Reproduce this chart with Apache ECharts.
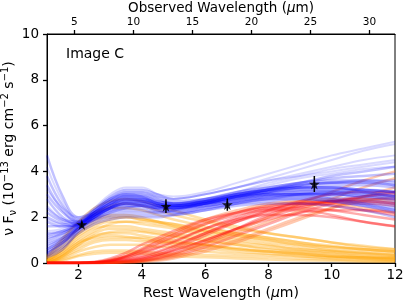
<!DOCTYPE html>
<html><head><meta charset="utf-8">
<script src="https://cdn.jsdelivr.net/npm/echarts@6/dist/echarts.min.js"></script>
<style>html,body{margin:0;padding:0;background:#fff}#c{width:407px;height:305px}</style>
</head><body><div id="c"></div>
<script>
const restX = [1,1.5,2,2.5,3,3.5,4,4.5,5,6,7,8,9,10,11,12];
const blueCurves = [
 [4.7,2.9,2.0,2.2,2.6,2.8,2.7,2.5,2.4,2.6,2.9,3.1,3.3,3.3,3.2,3.1],
 [3.8,2.5,1.9,2.3,2.8,3.0,2.9,2.6,2.5,2.7,3.0,3.2,3.4,3.5,3.5,3.4],
 [3.0,2.2,1.8,2.1,2.5,2.7,2.7,2.5,2.4,2.6,2.8,3.0,3.1,3.1,3.0,2.8],
 [2.0,1.7,1.6,2.0,2.4,2.6,2.6,2.4,2.3,2.5,2.7,2.9,3.0,3.0,2.9,2.7],
 [1.6,1.6,1.7,2.2,2.7,2.9,2.8,2.6,2.5,2.6,2.8,3.0,3.1,3.1,3.0,2.9],
 [1.2,1.4,1.7,2.3,2.8,3.1,3.1,2.9,2.7,2.8,3.0,3.2,3.4,3.5,3.6,3.6],
 [0.9,1.2,1.6,2.1,2.5,2.7,2.7,2.5,2.4,2.5,2.7,2.8,2.9,2.8,2.6,2.4],
 [0.6,1.0,1.6,2.2,2.7,3.0,3.0,2.8,2.6,2.7,2.9,3.1,3.2,3.2,3.2,3.1],
 [0.4,0.9,1.5,2.0,2.4,2.6,2.5,2.3,2.2,2.4,2.6,2.8,2.8,2.7,2.5,2.3],
 [2.2,1.8,1.7,2.0,2.3,2.4,2.4,2.3,2.3,2.5,2.7,2.9,3.0,3.0,2.9,2.8],
 [0.8,1.1,1.5,1.9,2.2,2.3,2.3,2.2,2.2,2.4,2.6,2.7,2.8,2.7,2.5,2.2],
 [3.4,2.3,1.8,2.1,2.4,2.6,2.6,2.5,2.5,2.7,3.0,3.3,3.5,3.7,3.8,3.9],
 [1.0,1.3,1.7,2.1,2.4,2.5,2.5,2.4,2.4,2.6,2.8,3.0,3.0,3.0,2.8,2.6],
 [0.5,0.9,1.4,1.8,2.0,2.1,2.1,2.1,2.1,2.3,2.5,2.6,2.6,2.5,2.3,2.0],
 [1.8,1.6,1.7,2.1,2.5,2.8,2.8,2.6,2.5,2.6,2.9,3.2,3.5,3.8,4.0,4.2],
 [0.7,1.1,1.6,2.2,2.6,2.8,2.8,2.6,2.5,2.7,2.9,3.1,3.3,3.4,3.4,3.3],
 [2.8,2.0,1.7,2.0,2.4,2.7,2.7,2.6,2.5,2.7,3.0,3.2,3.3,3.3,3.2,3.1],
 [0.35,0.7,1.3,1.7,1.9,2.0,2.0,2.0,2.1,2.3,2.6,2.8,3.0,3.1,3.1,3.0],
 [1.1,1.3,1.6,1.9,2.1,2.2,2.2,2.2,2.3,2.6,2.9,3.2,3.4,3.5,3.5,3.4],
 [0.25,0.6,1.4,2.0,2.4,2.6,2.6,2.5,2.5,2.7,3.0,3.2,3.3,3.3,3.1,2.9],
 [0.45,0.85,1.5,2.1,2.6,2.9,2.9,2.7,2.6,2.8,3.1,3.3,3.5,3.6,3.6,3.5],
 [2.4,1.9,1.8,2.2,2.6,2.9,2.9,2.7,2.6,2.7,2.9,3.0,3.0,2.9,2.7,2.5],
 [1.3,1.4,1.7,2.0,2.3,2.5,2.5,2.4,2.4,2.6,2.9,3.1,3.2,3.2,3.1,2.9],
 [0.6,1.0,1.5,1.9,2.2,2.4,2.5,2.4,2.4,2.6,2.8,2.9,2.9,2.8,2.6,2.3]
];
const blueFaintCurves = [
 [2.5,1.9,1.7,2.2,2.7,3.0,3.0,2.8,2.6,2.8,3.1,3.4,3.7,3.9,4.1,4.2],
 [0.3,0.8,1.6,2.3,2.9,3.2,3.2,3.0,2.8,3.0,3.3,3.6,3.9,4.2,4.5,4.7],
 [1.4,1.5,1.8,2.4,3.0,3.3,3.3,3.0,2.8,3.0,3.3,3.7,4.1,4.5,4.9,5.2],
 [4.2,2.7,1.9,2.1,2.5,2.8,2.8,2.7,2.6,2.8,3.1,3.5,3.8,4.1,4.3,4.5],
 [3.2,2.4,2.0,2.4,2.9,3.2,3.2,3.0,2.9,3.1,3.5,3.9,4.3,4.7,5.0,5.3],
 [1.9,1.7,1.8,2.3,2.8,3.1,3.1,2.9,2.8,3.0,3.3,3.6,3.8,4.0,4.2,4.4]
];
const orangeCurves = [
 [0.1,0.6,1.2,1.6,1.8,1.8,1.7,1.6,1.5,1.2,1.0,0.8,0.6,0.5,0.4,0.3],
 [0.2,0.9,1.5,1.9,2.1,2.1,2.0,1.8,1.7,1.4,1.2,1.0,0.8,0.7,0.6,0.5],
 [0.05,0.4,0.9,1.3,1.5,1.5,1.4,1.3,1.2,1.0,0.8,0.6,0.5,0.4,0.3,0.25],
 [0.0,0.3,0.7,1.0,1.1,1.1,1.1,1.0,0.9,0.8,0.6,0.5,0.4,0.3,0.25,0.2],
 [0.3,1.1,1.8,2.2,2.4,2.4,2.3,2.1,1.9,1.6,1.3,1.1,0.9,0.7,0.6,0.5],
 [0.0,0.2,0.5,0.7,0.8,0.8,0.8,0.7,0.7,0.5,0.4,0.35,0.3,0.2,0.15,0.1],
 [0.1,0.5,1.0,1.4,1.7,1.8,1.8,1.7,1.6,1.4,1.2,1.0,0.8,0.6,0.5,0.4],
 [0.0,0.3,0.8,1.2,1.3,1.3,1.2,1.1,1.0,0.8,0.65,0.5,0.4,0.3,0.2,0.15],
 [0.15,0.8,1.5,2.1,2.5,2.6,2.5,2.3,2.1,1.8,1.5,1.3,1.1,0.9,0.75,0.6],
 [0.05,0.4,0.9,1.1,1.2,1.15,1.05,0.95,0.9,0.75,0.6,0.5,0.4,0.3,0.25,0.2],
 [0.0,0.15,0.35,0.5,0.55,0.55,0.5,0.45,0.4,0.35,0.3,0.25,0.2,0.15,0.1,0.08],
 [0.2,0.7,1.3,1.7,1.9,2.0,1.9,1.8,1.7,1.5,1.3,1.1,0.9,0.75,0.6,0.5],
 [0.0,0.25,0.6,0.9,1.0,1.0,0.95,0.9,0.8,0.65,0.5,0.4,0.3,0.25,0.2,0.15],
 [0.1,0.5,1.1,1.5,1.6,1.6,1.5,1.4,1.3,1.1,0.9,0.75,0.6,0.5,0.4,0.35],
 [0.25,1.0,1.8,2.4,2.7,2.8,2.7,2.5,2.3,1.9,1.6,1.3,1.1,0.9,0.7,0.6],
 [0.0,0.1,0.3,0.4,0.45,0.45,0.4,0.35,0.3,0.25,0.2,0.15,0.12,0.1,0.06,0.05],
 [0.05,0.35,0.8,1.15,1.35,1.4,1.35,1.25,1.15,0.95,0.8,0.65,0.5,0.4,0.3,0.25],
 [0.1,0.6,1.3,1.8,2.0,2.0,1.9,1.8,1.6,1.3,1.1,0.9,0.7,0.55,0.45,0.35]
];
const redCurves = [
 [0,0,0,0.02,0.1,0.25,0.5,0.8,1.1,1.7,2.2,2.5,2.7,2.8,2.8,2.7],
 [0,0,0,0.01,0.05,0.12,0.25,0.45,0.7,1.3,1.8,2.2,2.5,2.6,2.6,2.5],
 [0,0,0,0,0.02,0.06,0.15,0.3,0.5,1.0,1.5,2.0,2.4,2.7,2.9,3.0],
 [0,0,0,0.03,0.15,0.35,0.65,1.0,1.3,1.9,2.3,2.6,2.7,2.6,2.4,2.2],
 [0,0,0,0,0.01,0.03,0.08,0.17,0.3,0.7,1.2,1.7,2.2,2.6,2.9,3.1],
 [0,0,0,0.02,0.08,0.2,0.4,0.65,0.9,1.5,2.0,2.4,2.6,2.7,2.7,2.6],
 [0,0,0,0,0.01,0.02,0.05,0.1,0.2,0.5,0.9,1.4,1.9,2.4,2.9,3.3],
 [0,0,0,0.05,0.2,0.45,0.8,1.1,1.4,1.9,2.2,2.4,2.4,2.3,2.1,1.9],
 [0,0,0,0.01,0.04,0.1,0.2,0.35,0.55,1.0,1.5,1.9,2.2,2.3,2.3,2.2],
 [0,0,0,0,0.02,0.05,0.12,0.25,0.4,0.85,1.4,2.0,2.6,3.1,3.6,4.0],
 [0,0,0,0.02,0.1,0.3,0.55,0.85,1.15,1.7,2.1,2.3,2.3,2.1,1.8,1.6],
 [0,0,0,0,0.03,0.08,0.18,0.35,0.6,1.2,1.8,2.3,2.7,3.0,3.1,3.1],
 [0,0,0,0,0.01,0.03,0.07,0.14,0.25,0.6,1.0,1.5,2.0,2.4,2.7,2.9],
 [0,0,0,0.03,0.12,0.3,0.6,0.95,1.25,1.8,2.2,2.5,2.6,2.5,2.3,2.1],
 [0,0,0,0.01,0.06,0.15,0.3,0.5,0.75,1.3,1.9,2.3,2.6,2.7,2.7,2.6],
 [0,0,0,0,0.02,0.05,0.1,0.2,0.35,0.8,1.3,1.8,2.3,2.8,3.3,3.7],
 [0,0,0,0.02,0.1,0.25,0.45,0.7,0.95,1.5,1.9,2.1,2.1,2.0,1.8,1.6],
 [0,0,0,0,0.01,0.04,0.1,0.22,0.4,0.9,1.5,2.1,2.5,2.7,2.8,2.8]
];
const obsX = [2.1,4.76,6.7,9.45];
const obsY = [1.68,2.48,2.55,3.45];
const obsErr = [0.12,0.3,0.27,0.35];
const bottomTicks = [2,4,6,8,10,12];
const topTicks = [5,10,15,20,25,30];
const zFactor = 2.68;

const FONT = 'DejaVu Sans';
const series = [];
function addCurves(curves, colorFn, opacity, width){
  curves.forEach((c,i) => series.push({
    type:'line', smooth:0.4, symbol:'none', silent:true,
    data: c.map((v,j)=>[restX[j], v]),
    lineStyle:{color: colorFn(i), opacity, width}
  }));
}
addCurves(orangeCurves, ()=> '#ffa500', 0.34, 2.5);
addCurves(redCurves, i => i%3===0 ? '#ff5a10' : '#ff0000', 0.33, 2.5);
addCurves(blueFaintCurves, ()=> '#0000ff', 0.15, 2);
addCurves(blueCurves, ()=> '#0000ff', 0.24, 2.5);
series.push({
  type:'custom', silent:true, z:10,
  data: obsX.map((x,i)=>[x, obsY[i]-obsErr[i], obsY[i]+obsErr[i]]),
  renderItem:(params, api)=>{
    const a = api.coord([api.value(0), api.value(1)]);
    const b = api.coord([api.value(0), api.value(2)]);
    return {type:'line', shape:{x1:a[0],y1:a[1],x2:b[0],y2:b[1]}, style:{stroke:'#000', lineWidth:1.5}};
  }
});
series.push({
  type:'scatter', z:11, silent:true,
  symbol:'path://M50,0 L61,35 L98,35 L68,57 L79,91 L50,70 L21,91 L32,57 L2,35 L39,35 Z',
  symbolSize:11, itemStyle:{color:'#000'},
  data: obsX.map((x,i)=>[x, obsY[i]])
});

const chart = echarts.init(document.getElementById('c'), null, {renderer:'canvas'});
chart.setOption({
  animation:false,
  textStyle:{fontFamily:FONT},
  title:{text:'Image C', left:61, top:42, textStyle:{fontFamily:FONT, fontSize:14, fontWeight:'normal', color:'#000'}},
  grid:{left:47, right:12, top:34, bottom:42, containLabel:false, outerBoundsMode:'none',
        show:true, borderColor:'#000', borderWidth:1, backgroundColor:'transparent'},
  xAxis:[{
    type:'value', min:1, max:12, position:'bottom',
    name:'Rest Wavelength ({i|μ}m)', nameLocation:'middle', nameGap:23, nameMoveOverlap:false,
    nameTextStyle:{fontFamily:FONT, fontSize:14, color:'#000', rich:{i:{fontStyle:'italic', fontFamily:FONT, fontSize:14}}},
    axisLine:{show:true, lineStyle:{color:'#000'}},
    axisTick:{show:true, customValues:bottomTicks, length:4, lineStyle:{color:'#000', width:1.3}},
    axisLabel:{customValues:bottomTicks, color:'#000', fontSize:13.5, margin:5, fontFamily:FONT},
    splitLine:{show:false}
  },{
    type:'value', min:zFactor*1, max:zFactor*12, position:'top',
    name:'Observed Wavelength ({i|μ}m)', nameLocation:'middle', nameGap:19, nameMoveOverlap:false,
    nameTextStyle:{fontFamily:FONT, fontSize:13.5, color:'#000', rich:{i:{fontStyle:'italic', fontFamily:FONT, fontSize:13.5}}},
    axisLine:{show:true, lineStyle:{color:'#000'}},
    axisTick:{show:true, customValues:topTicks, length:4, lineStyle:{color:'#000', width:1.3}},
    axisLabel:{customValues:topTicks, color:'#000', fontSize:10.5, margin:6, fontFamily:FONT},
    splitLine:{show:false}
  }],
  yAxis:[{
    type:'value', min:0, max:10, interval:2,
    name:'{t|ν F}{s|ν}{t| (10}{p|−13}{t| erg cm}{p|−2}{t| s}{p|−1}{t|)}',
    nameLocation:'middle', nameGap:29, nameRotate:90, nameMoveOverlap:false,
    nameTextStyle:{color:'#000', rich:{
      t:{fontFamily:FONT, fontSize:14, color:'#000', lineHeight:18},
      s:{fontFamily:FONT, fontSize:10, color:'#000', verticalAlign:'bottom', lineHeight:18, padding:[6,0,0,0]},
      p:{fontFamily:FONT, fontSize:10, color:'#000', verticalAlign:'top', lineHeight:18, padding:[0,0,7,0]}
    }},
    axisLine:{show:true, lineStyle:{color:'#000'}},
    axisTick:{show:true, length:4, lineStyle:{color:'#000', width:1.3}},
    axisLabel:{color:'#000', fontSize:13.5, margin:8, fontFamily:FONT},
    splitLine:{show:false}
  }],
  series
});
</script></body></html>
